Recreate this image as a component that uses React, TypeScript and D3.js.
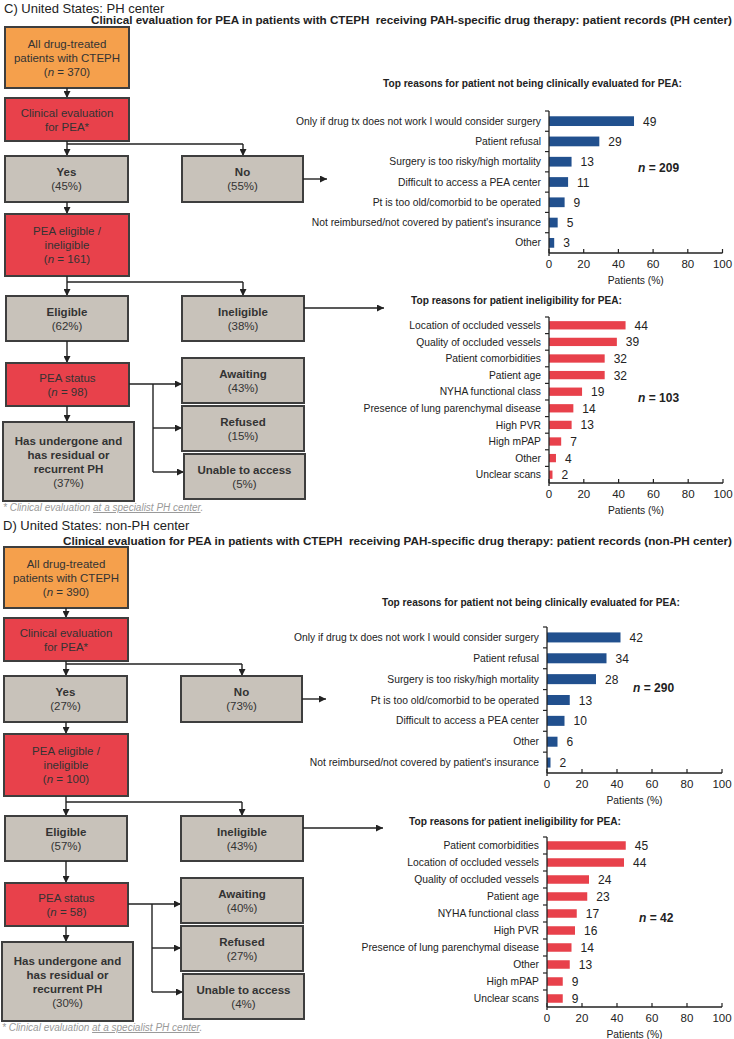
import React from 'react';
import * as d3 from 'd3';

// ---------- DATA ----------
const notEvalLabelsC = [
  'Only if drug tx does not work I would consider surgery',
  'Patient refusal',
  'Surgery is too risky/high mortality',
  'Difficult to access a PEA center',
  'Pt is too old/comorbid to be operated',
  "Not reimbursed/not covered by patient's insurance",
  'Other',
];
const notEvalValuesC = [49, 29, 13, 11, 9, 5, 3];

const ineligLabelsC = [
  'Location of occluded vessels',
  'Quality of occluded vessels',
  'Patient comorbidities',
  'Patient age',
  'NYHA functional class',
  'Presence of lung parenchymal disease',
  'High PVR',
  'High mPAP',
  'Other',
  'Unclear scans',
];
const ineligValuesC = [44, 39, 32, 32, 19, 14, 13, 7, 4, 2];

const notEvalLabelsD = [
  'Only if drug tx does not work I would consider surgery',
  'Patient refusal',
  'Surgery is too risky/high mortality',
  'Pt is too old/comorbid to be operated',
  'Difficult to access a PEA center',
  'Other',
  "Not reimbursed/not covered by patient's insurance",
];
const notEvalValuesD = [42, 34, 28, 13, 10, 6, 2];

const ineligLabelsD = [
  'Patient comorbidities',
  'Location of occluded vessels',
  'Quality of occluded vessels',
  'Patient age',
  'NYHA functional class',
  'High PVR',
  'Presence of lung parenchymal disease',
  'Other',
  'High mPAP',
  'Unclear scans',
];
const ineligValuesD = [45, 44, 24, 23, 17, 16, 14, 13, 9, 9];

const xTickValues = [0, 20, 40, 60, 80, 100];

const sectionTitles = ['C) United States: PH center', 'D) United States: non-PH center'];
const sectionSubtitles = [
  'Clinical evaluation for PEA in patients with CTEPH\u00a0\u00a0receiving PAH-specific drug therapy: patient records (PH center)',
  'Clinical evaluation for PEA in patients with CTEPH\u00a0\u00a0receiving PAH-specific drug therapy: patient records (non-PH center)',
];
const totalN = [370, 390];
const evalYesPct = [45, 27];
const evalNoPct = [55, 73];
const eligAssessN = [161, 100];
const eligiblePct = [62, 57];
const ineligiblePct = [38, 43];
const statusN = [98, 58];
const awaitingPct = [43, 40];
const refusedPct = [15, 27];
const unablePct = [5, 4];
const undergonePct = [37, 30];
const notEvalN = [209, 290];
const ineligN = [103, 42];

const notEvalTitle = 'Top reasons for patient not being clinically evaluated for PEA:';
const ineligTitle = 'Top reasons for patient ineligibility for PEA:';
const axisTitle = 'Patients (%)';

// ---------- STYLE ----------
const FONT = '"Liberation Sans", Arial, Helvetica, sans-serif';
const ORANGE = '#F5A04C';
const RED = '#E8414B';
const GRAY = '#C8C2BA';
const BORDER = '#3E3E3E';
const BLUE = '#21508E';
const BARRED = '#E8414B';
const INK = '#222';

type Line = { text: string; bold?: boolean; nVal?: number };

function Box({ x, y, w, h, fill, lines }: { x: number; y: number; w: number; h: number; fill: string; lines: Line[] }) {
  const lh = 14;
  const cy = y + h / 2;
  const start = cy - ((lines.length - 1) * lh) / 2;
  return (
    <g>
      <rect x={x} y={y} width={w} height={h} fill={fill} stroke={BORDER} strokeWidth={2} />
      {lines.map((l, i) => (
        <text
          key={i}
          x={x + w / 2}
          y={start + i * lh + 4}
          textAnchor="middle"
          fontFamily={FONT}
          fontSize={11.5}
          fontWeight={l.bold ? 'bold' : 'normal'}
          fill="#333"
        >
          {l.nVal !== undefined ? (
            <>
              (<tspan fontStyle="italic">n</tspan> = {l.nVal})
            </>
          ) : (
            l.text
          )}
        </text>
      ))}
    </g>
  );
}

function Arrow({ x1, y1, x2, y2, head = true }: { x1: number; y1: number; x2: number; y2: number; head?: boolean }) {
  return (
    <line
      x1={x1}
      y1={y1}
      x2={x2}
      y2={y2}
      stroke={INK}
      strokeWidth={1.4}
      markerEnd={head ? 'url(#arrowHead)' : undefined}
    />
  );
}

function Flow({ i, oy, dx }: { i: number; oy: number; dx: number }) {
  const X = (v: number) => v + dx;
  const Y = (v: number) => v + oy;
  const cx = X(67);
  const rx = X(243);
  return (
    <g>
      <Box x={X(5)} y={Y(27)} w={124} h={61} fill={ORANGE}
        lines={[{ text: 'All drug-treated' }, { text: 'patients with CTEPH' }, { text: '', nVal: totalN[i] }]} />
      <Arrow x1={cx} y1={Y(88)} x2={cx} y2={Y(98)} />
      <Box x={X(5)} y={Y(98)} w={124} h={43} fill={RED}
        lines={[{ text: 'Clinical evaluation' }, { text: 'for PEA*' }]} />
      <Arrow x1={cx} y1={Y(141)} x2={cx} y2={Y(156)} />
      <Arrow x1={cx} y1={Y(144)} x2={rx} y2={Y(144)} head={false} />
      <Arrow x1={rx} y1={Y(144)} x2={rx} y2={Y(156)} />
      <Box x={X(5)} y={Y(156)} w={123} h={46} fill={GRAY}
        lines={[{ text: 'Yes', bold: true }, { text: `(${evalYesPct[i]}%)` }]} />
      <Box x={X(182)} y={Y(156)} w={121} h={46} fill={GRAY}
        lines={[{ text: 'No', bold: true }, { text: `(${evalNoPct[i]}%)` }]} />
      <Arrow x1={X(303)} y1={Y(179)} x2={X(327)} y2={Y(179)} />
      <Arrow x1={cx} y1={Y(202)} x2={cx} y2={Y(214)} />
      <Box x={X(5)} y={Y(214)} w={124} h={62} fill={RED}
        lines={[{ text: 'PEA eligible /' }, { text: 'ineligible' }, { text: '', nVal: eligAssessN[i] }]} />
      <Arrow x1={cx} y1={Y(276)} x2={cx} y2={Y(296)} />
      <Arrow x1={cx} y1={Y(282)} x2={rx} y2={Y(282)} head={false} />
      <Arrow x1={rx} y1={Y(282)} x2={rx} y2={Y(296)} />
      <Box x={X(6)} y={Y(296)} w={122} h={45} fill={GRAY}
        lines={[{ text: 'Eligible', bold: true }, { text: `(${eligiblePct[i]}%)` }]} />
      <Box x={X(182)} y={Y(296)} w={122} h={45} fill={GRAY}
        lines={[{ text: 'Ineligible', bold: true }, { text: `(${ineligiblePct[i]}%)` }]} />
      <Arrow x1={X(304)} y1={Y(308)} x2={X(384)} y2={Y(308)} />
      <Arrow x1={cx} y1={Y(341)} x2={cx} y2={Y(363)} />
      <Box x={X(6)} y={Y(363)} w={123} h={43} fill={RED}
        lines={[{ text: 'PEA status' }, { text: '', nVal: statusN[i] }]} />
      <Arrow x1={X(129)} y1={Y(384)} x2={X(182)} y2={Y(384)} />
      <Arrow x1={X(153)} y1={Y(384)} x2={X(153)} y2={Y(472)} head={false} />
      <Arrow x1={X(153)} y1={Y(428)} x2={X(182)} y2={Y(428)} />
      <Arrow x1={X(153)} y1={Y(472)} x2={X(184)} y2={Y(472)} />
      <Box x={X(182)} y={Y(358)} w={122} h={45} fill={GRAY}
        lines={[{ text: 'Awaiting', bold: true }, { text: `(${awaitingPct[i]}%)` }]} />
      <Box x={X(182)} y={Y(406)} w={122} h={45} fill={GRAY}
        lines={[{ text: 'Refused', bold: true }, { text: `(${refusedPct[i]}%)` }]} />
      <Box x={X(184)} y={Y(454)} w={121} h={45} fill={GRAY}
        lines={[{ text: 'Unable to access', bold: true }, { text: `(${unablePct[i]}%)` }]} />
      <Arrow x1={cx} y1={Y(406)} x2={cx} y2={Y(422)} />
      <Box x={X(3)} y={Y(422)} w={131} h={79} fill={GRAY}
        lines={[
          { text: 'Has undergone and', bold: true },
          { text: 'has residual or', bold: true },
          { text: 'recurrent PH', bold: true },
          { text: `(${undergonePct[i]}%)` },
        ]} />
      <text x={X(3)} y={Y(511)} fontFamily={FONT} fontSize={10} fontStyle="italic" fill="#9a9a9a">
        * Clinical evaluation{' '}
        <tspan textDecoration="underline">at a specialist PH center</tspan>.
      </text>
    </g>
  );
}

type ChartProps = {
  labels: string[];
  values: number[];
  color: string;
  x0: number;
  x1: number;
  top: number;
  bottom: number;
  title: string;
  titleX: number;
  titleY: number;
  titleLen: number;
  n: number;
  nX: number;
  nY: number;
  pad: number;
};

function BarChart(p: ChartProps) {
  const x = d3.scaleLinear().domain([0, 100]).range([p.x0, p.x1]);
  const y = d3.scaleBand<string>().domain(p.labels).range([p.top, p.bottom]).paddingInner(p.pad).paddingOuter(p.pad / 2);
  const step = y.step();
  const boundaries = d3.range(p.labels.length).map((k) => p.top + k * step);
  return (
    <g fontFamily={FONT}>
      <text x={p.titleX} y={p.titleY} fontSize={10} fontWeight="bold" fill={INK} textLength={p.titleLen} lengthAdjust="spacingAndGlyphs">
        {p.title}
      </text>
      {p.labels.map((l, k) => (
        <g key={k}>
          <rect x={x(0)} y={y(l)!} width={x(p.values[k]) - x(0)} height={y.bandwidth()} fill={p.color} />
          <text x={p.x0 - 8} y={y(l)! + y.bandwidth() / 2} dy="0.35em" textAnchor="end" fontSize={10.3} fill={INK}>
            {l}
          </text>
          <text x={x(p.values[k]) + 9} y={y(l)! + y.bandwidth() / 2} dy="0.38em" fontSize={12} fill={INK}>
            {p.values[k]}
          </text>
        </g>
      ))}
      <line x1={p.x0} y1={p.top} x2={p.x0} y2={p.bottom + 3} stroke={INK} strokeWidth={1.3} />
      {boundaries.map((b, k) => (
        <line key={k} x1={p.x0 - 4} y1={b} x2={p.x0} y2={b} stroke={INK} strokeWidth={1.2} />
      ))}
      <line x1={p.x0} y1={p.bottom} x2={p.x1} y2={p.bottom} stroke={INK} strokeWidth={1.3} />
      {xTickValues.map((t) => (
        <g key={t}>
          <line x1={x(t)} y1={p.bottom - 4} x2={x(t)} y2={p.bottom} stroke={INK} strokeWidth={1.2} />
          <text x={x(t)} y={p.bottom + 15} textAnchor="middle" fontSize={11.5} fill={INK}>
            {t}
          </text>
        </g>
      ))}
      <text x={(p.x0 + p.x1) / 2} y={p.bottom + 31} textAnchor="middle" fontSize={10.3} fill={INK}>
        {axisTitle}
      </text>
      <text x={p.nX} y={p.nY} fontSize={12} fontWeight="bold" fill={INK}>
        <tspan fontStyle="italic">n</tspan> = {p.n}
      </text>
    </g>
  );
}

export default function App() {
  return (
    <svg
      width={734}
      height={1039}
      viewBox="0 0 734 1039"
      style={{ position: 'absolute', left: 0, top: 0, background: '#fff' }}
    >
      <defs>
        <marker id="arrowHead" viewBox="0 0 10 10" refX="10" refY="5" markerWidth="7" markerHeight="7" markerUnits="userSpaceOnUse" orient="auto">
          <path d="M0,0L10,5L0,10z" fill={INK} />
        </marker>
      </defs>
      <rect x={0} y={0} width={734} height={1039} fill="#fff" />

      {/* Section C */}
      <text x={4} y={13} fontFamily={FONT} fontSize={13} fill={INK}>{sectionTitles[0]}</text>
      <text x={91} y={24} fontFamily={FONT} fontSize={11.5} fontWeight="bold" fill={INK} textLength={641} lengthAdjust="spacingAndGlyphs">
        {sectionSubtitles[0]}
      </text>
      <Flow i={0} oy={0} dx={0} />
      <BarChart labels={notEvalLabelsC} values={notEvalValuesC} color={BLUE} x0={549} x1={722.5} top={111} bottom={253}
        title={notEvalTitle} titleX={383} titleY={87} titleLen={299} n={notEvalN[0]} nX={638} nY={172} pad={0.52} />
      <BarChart labels={ineligLabelsC} values={ineligValuesC} color={BARRED} x0={549} x1={723} top={317} bottom={483}
        title={ineligTitle} titleX={411} titleY={304} titleLen={211} n={ineligN[0]} nX={638} nY={402} pad={0.5} />

      {/* Section D */}
      <text x={3} y={530} fontFamily={FONT} fontSize={13} fill={INK}>{sectionTitles[1]}</text>
      <text x={63} y={545} fontFamily={FONT} fontSize={11.5} fontWeight="bold" fill={INK} textLength={669} lengthAdjust="spacingAndGlyphs">
        {sectionSubtitles[1]}
      </text>
      <Flow i={1} oy={520} dx={-1} />
      <BarChart labels={notEvalLabelsD} values={notEvalValuesD} color={BLUE} x0={547} x1={722} top={627} bottom={773}
        title={notEvalTitle} titleX={382} titleY={606} titleLen={298} n={notEvalN[1]} nX={633} nY={692} pad={0.52} />
      <BarChart labels={ineligLabelsD} values={ineligValuesD} color={BARRED} x0={547} x1={722} top={837} bottom={1007}
        title={ineligTitle} titleX={409} titleY={825} titleLen={212} n={ineligN[1]} nX={639} nY={922} pad={0.5} />
    </svg>
  );
}
